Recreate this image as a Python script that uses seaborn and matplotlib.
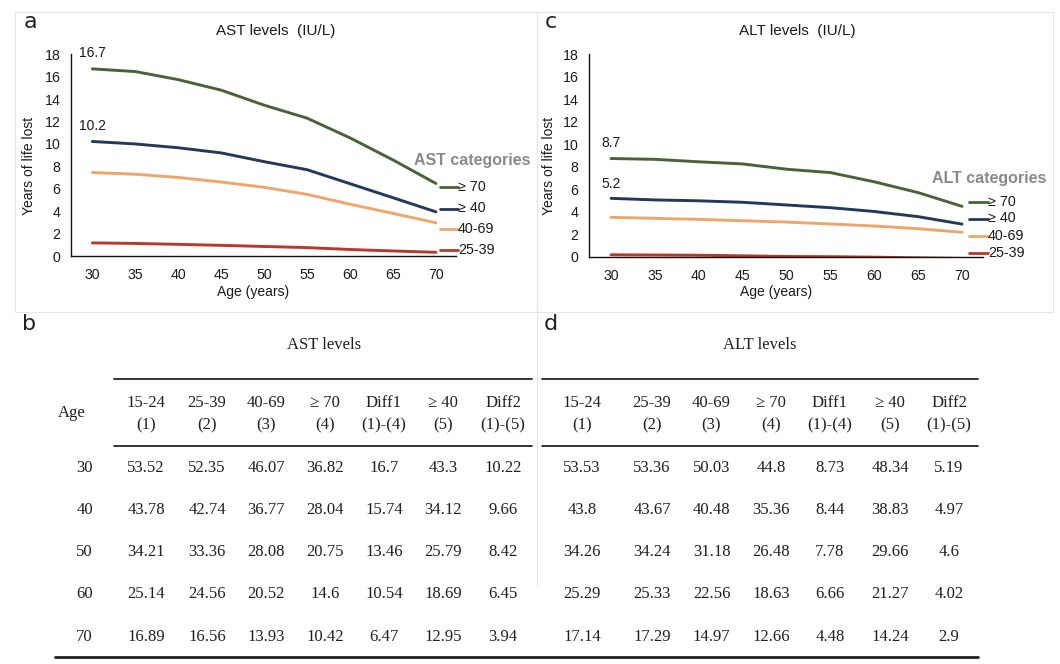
import matplotlib
matplotlib.use("Agg")
import matplotlib.pyplot as plt
import seaborn as sns
import pandas as pd
from matplotlib.lines import Line2D
from matplotlib.patches import Rectangle

# ---------------- data ----------------
ages = [30, 35, 40, 45, 50, 55, 60, 65, 70]
categories = ["≥ 70", "≥ 40", "40-69", "25-39"]

ast_ge70 = [16.7, 16.46, 15.74, 14.8, 13.46, 12.3, 10.54, 8.57, 6.47]
ast_ge40 = [10.22, 10.0, 9.66, 9.2, 8.42, 7.7, 6.45, 5.2, 3.94]
ast_40_69 = [7.45, 7.3, 7.01, 6.6, 6.13, 5.5, 4.62, 3.8, 2.96]
ast_25_39 = [1.17, 1.12, 1.04, 0.95, 0.85, 0.75, 0.58, 0.45, 0.33]

alt_ge70 = [8.73, 8.66, 8.44, 8.25, 7.78, 7.48, 6.66, 5.7, 4.48]
alt_ge40 = [5.19, 5.05, 4.97, 4.84, 4.6, 4.36, 4.02, 3.56, 2.9]
alt_40_69 = [3.5, 3.41, 3.32, 3.2, 3.08, 2.91, 2.73, 2.49, 2.17]
alt_25_39 = [0.17, 0.15, 0.13, 0.08, 0.02, 0.0, -0.04, -0.1, -0.15]

yticks = [0, 2, 4, 6, 8, 10, 12, 14, 16, 18]
xticks = [30, 35, 40, 45, 50, 55, 60, 65, 70]

table_ages = [30, 40, 50, 60, 70]
header_top = ["15-24", "25-39", "40-69", "≥ 70", "Diff1", "≥ 40", "Diff2"]
header_bot = ["(1)", "(2)", "(3)", "(4)", "(1)-(4)", "(5)", "(1)-(5)"]

ast_1524 = [53.52, 43.78, 34.21, 25.14, 16.89]
ast_2539 = [52.35, 42.74, 33.36, 24.56, 16.56]
ast_4069 = [46.07, 36.77, 28.08, 20.52, 13.93]
ast_ge70_t = [36.82, 28.04, 20.75, 14.6, 10.42]
ast_diff1 = [16.7, 15.74, 13.46, 10.54, 6.47]
ast_ge40_t = [43.3, 34.12, 25.79, 18.69, 12.95]
ast_diff2 = [10.22, 9.66, 8.42, 6.45, 3.94]

alt_1524 = [53.53, 43.8, 34.26, 25.29, 17.14]
alt_2539 = [53.36, 43.67, 34.24, 25.33, 17.29]
alt_4069 = [50.03, 40.48, 31.18, 22.56, 14.97]
alt_ge70_t = [44.8, 35.36, 26.48, 18.63, 12.66]
alt_diff1 = [8.73, 8.44, 7.78, 6.66, 4.48]
alt_ge40_t = [48.34, 38.83, 29.66, 21.27, 14.24]
alt_diff2 = [5.19, 4.97, 4.6, 4.02, 2.9]

# ---------------- style ----------------
sns.set_style("white")
plt.rcParams['font.family'] = ['Liberation Sans', 'DejaVu Sans']
palette = {"≥ 70": "#4b6238", "≥ 40": "#24385c", "40-69": "#eea66a", "25-39": "#b8392a"}
SERIF = ['Liberation Serif', 'DejaVu Serif']
TXT = "#1f1f1f"

W, H = 1060, 664
fig = plt.figure(figsize=(W / 100, H / 100), dpi=100)
fig.patch.set_facecolor("white")


def fx(x):
    return x / W


def fy(y):
    return 1 - y / H


def hline(x0, x1, y, lw=1.1, color="#111111"):
    fig.add_artist(Line2D([fx(x0), fx(x1)], [fy(y), fy(y)], lw=lw, color=color,
                          transform=fig.transFigure))


def vline(x, y0, y1, lw=0.8, color="#e2e2e2"):
    fig.add_artist(Line2D([fx(x), fx(x)], [fy(y0), fy(y1)], lw=lw, color=color,
                          transform=fig.transFigure))


# panel frames
for (x0, y0, x1, y1) in [(15, 12, 537, 312), (537, 12, 1053, 312)]:
    fig.add_artist(Rectangle((fx(x0), fy(y1)), (x1 - x0) / W, (y1 - y0) / H,
                             transform=fig.transFigure, fill=False,
                             edgecolor="#e4e4e4", lw=0.8))
vline(537, 312, 587)


def draw_chart(left, right, top, bottom, xlim, series, title, title_x, letter, letter_x,
               ylab_x, leg_title, leg_title_xy, leg_x0, leg_x1, leg_ys, ann_y, ann_vals):
    ax = fig.add_axes([fx(left), fy(bottom), (right - left) / W, (bottom - top) / H])
    rows = []
    for cat, vals in zip(categories, series):
        for a, v in zip(ages, vals):
            rows.append({"age": a, "yll": v, "cat": cat})
    df = pd.DataFrame(rows)
    sns.lineplot(data=df, x="age", y="yll", hue="cat", hue_order=categories,
                 palette=palette, estimator=None, legend=False, lw=2.1, ax=ax)
    ax.set_xlim(*xlim)
    ax.set_ylim(0, 18)
    ax.set_xticks(xticks)
    ax.set_yticks(yticks)
    ax.set_xlabel("")
    ax.set_ylabel("")
    for s in ["top", "right"]:
        ax.spines[s].set_visible(False)
    for s in ["left", "bottom"]:
        ax.spines[s].set_color("#111111")
        ax.spines[s].set_linewidth(1.0)
    ax.tick_params(axis="both", length=0, labelsize=10.2, colors="#1a1a1a")
    ax.tick_params(axis="y", pad=7.5)
    ax.tick_params(axis="x", pad=8.5)
    ax.set_facecolor("none")
    # annotations at first age
    for yv, v in zip(ann_y, ann_vals):
        ax.text(ages[0], yv, f"{v:.1f}", ha="center", va="center", fontsize=10,
                color="#1a1a1a", clip_on=False)
    # titles / labels
    fig.text(fx(title_x), fy(31.5), title, ha="center", va="center", fontsize=11, color="#1a1a1a")
    fig.text(fx(letter_x), fy(22), letter, ha="center", va="center",
             fontsize=16, color="#222222", family=['DejaVu Sans'])
    fig.text(fx(ylab_x), fy(166), "Years of life lost", rotation=90, ha="center", va="center",
             fontsize=10, color="#1a1a1a")
    fig.text(fx((left + right) / 2 - 10), fy(292), "Age (years)", ha="center", va="center",
             fontsize=10, color="#1a1a1a")
    # legend
    fig.text(fx(leg_title_xy[0]), fy(leg_title_xy[1]), leg_title, ha="center", va="center",
             fontsize=11.5, fontweight="bold", color="#8a8a8a")
    for cat, ly in zip(categories, leg_ys):
        fig.add_artist(Line2D([fx(leg_x0), fx(leg_x1)], [fy(ly), fy(ly)], lw=2.0,
                              color=palette[cat], transform=fig.transFigure))
        fig.text(fx(leg_x1), fy(ly), cat, ha="left", va="center", fontsize=10.3, color="#1a1a1a")
    return ax


draw_chart(71, 456, 54.3, 256, (27.52, 72.33),
           [ast_ge70, ast_ge40, ast_40_69, ast_25_39],
           "AST levels  (IU/L)", 275.5, "a", 30, 29,
           "AST categories", (472.5, 161), 439.5, 458, [186.5, 208.5, 229, 250],
           [18.1, 11.6], [ast_ge70[0], ast_ge40[0]])

draw_chart(589, 983, 54.3, 256.7, (27.49, 72.39),
           [alt_ge70, alt_ge40, alt_40_69, alt_25_39],
           "ALT levels  (IU/L)", 797, "c", 551, 549,
           "ALT categories", (989, 178), 969, 988, [201.5, 218.5, 236, 253],
           [10.07, 6.44], [alt_ge70[0], alt_ge40[0]])

# ---------------- tables ----------------
row_y = [468.3, 510, 552, 594, 636.7]


def draw_table(letter, letter_x, title, title_x, rule_x0, rule_x1, col_x, cols, show_age):
    fig.text(fx(letter_x), fy(324), letter, ha="center", va="center", fontsize=16,
             color="#222222", family=['DejaVu Sans'])
    fig.text(fx(title_x), fy(345), title, ha="center", va="center", fontsize=12,
             color=TXT, family=SERIF)
    hline(rule_x0, rule_x1, 379, lw=1.2)
    hline(rule_x0, rule_x1, 446, lw=1.2)
    for x, t, b in zip(col_x, header_top, header_bot):
        fig.text(fx(x), fy(403), t, ha="center", va="center", fontsize=12, color=TXT, family=SERIF)
        fig.text(fx(x), fy(425), b, ha="center", va="center", fontsize=12, color=TXT, family=SERIF)
    if show_age:
        fig.text(fx(71.5), fy(413), "Age", ha="center", va="center", fontsize=12, color=TXT,
                 family=SERIF)
        for a, y in zip(table_ages, row_y):
            fig.text(fx(84.5), fy(y), str(a), ha="center", va="center", fontsize=12, color=TXT,
                     family=SERIF)
    for x, vals in zip(col_x, cols):
        for v, y in zip(vals, row_y):
            fig.text(fx(x), fy(y), str(v), ha="center", va="center", fontsize=12, color=TXT,
                     family=SERIF)


draw_table("b", 29, "AST levels", 324, 113.5, 532,
           [146, 207, 266, 325, 384, 443, 503],
           [ast_1524, ast_2539, ast_4069, ast_ge70_t, ast_diff1, ast_ge40_t, ast_diff2], True)
draw_table("d", 551, "ALT levels", 760, 542, 978,
           [582, 652, 711.5, 771, 830, 890, 949],
           [alt_1524, alt_2539, alt_4069, alt_ge70_t, alt_diff1, alt_ge40_t, alt_diff2], False)

hline(55, 978, 657, lw=2.0, color="#222222")

fig.savefig("out.png", dpi=100, facecolor="white")
